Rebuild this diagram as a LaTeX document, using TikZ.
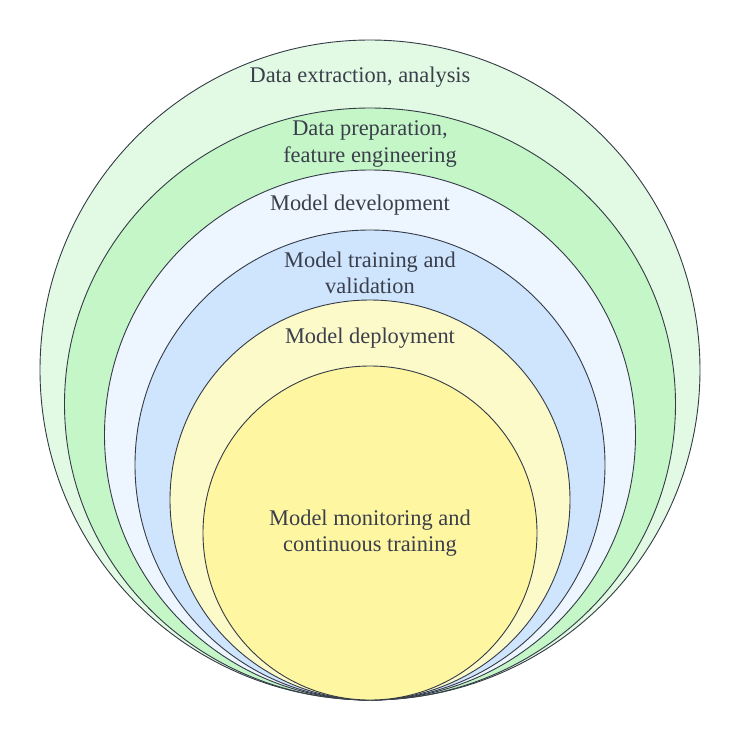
\documentclass[tikz,border=0pt]{standalone}
\usepackage{fontspec}
\setmainfont{Liberation Serif}
\usepackage{xcolor}
\definecolor{ringA}{HTML}{E2FAE3}
\definecolor{ringB}{HTML}{C5F6C8}
\definecolor{ringC}{HTML}{EDF5FE}
\definecolor{ringD}{HTML}{CFE4FD}
\definecolor{ringE}{HTML}{FCFAC9}
\definecolor{ringF}{HTML}{FEF6A1}
\definecolor{edge}{HTML}{343B47}
\definecolor{ink}{HTML}{3A3F4B}
\tikzset{
    ring/.style={draw=edge, line width=0.9pt},
    lbl/.style={text=ink, align=center, inner sep=0pt, font=\fontsize{22.4}{26.5}\selectfont}
}

\begin{document}
\begin{tikzpicture}[x=1pt,y=-1pt]
    \useasboundingbox (0,0) rectangle (740,740);
    % nested rings, all touching at the bottom
    \foreach \cy/\rx/\ry/\c in {370/330/330/ringA, 404/305.5/296/ringB, 435/265.5/265/ringC, 465/235/235/ringD, 500/200/200/ringE, 533/167/167/ringF} {
        \draw[ring, fill=\c] (370,\cy) ellipse [x radius=\rx pt, y radius=\ry pt];
    }
    \node[lbl] (extract) at (360,77) {Data extraction, analysis};
    \node[lbl] (prep) at (370,144) {Data preparation,\\feature engineering};
    \node[lbl] (dev) at (360,205) {Model development};
    \node[lbl] (train) at (370,273) {Model training and\\validation};
    \node[lbl] (deploy) at (370,338) {Model deployment};
    \node[lbl] (monitor) at (370,533) {Model monitoring and\\continuous training};
\end{tikzpicture}
\end{document}
